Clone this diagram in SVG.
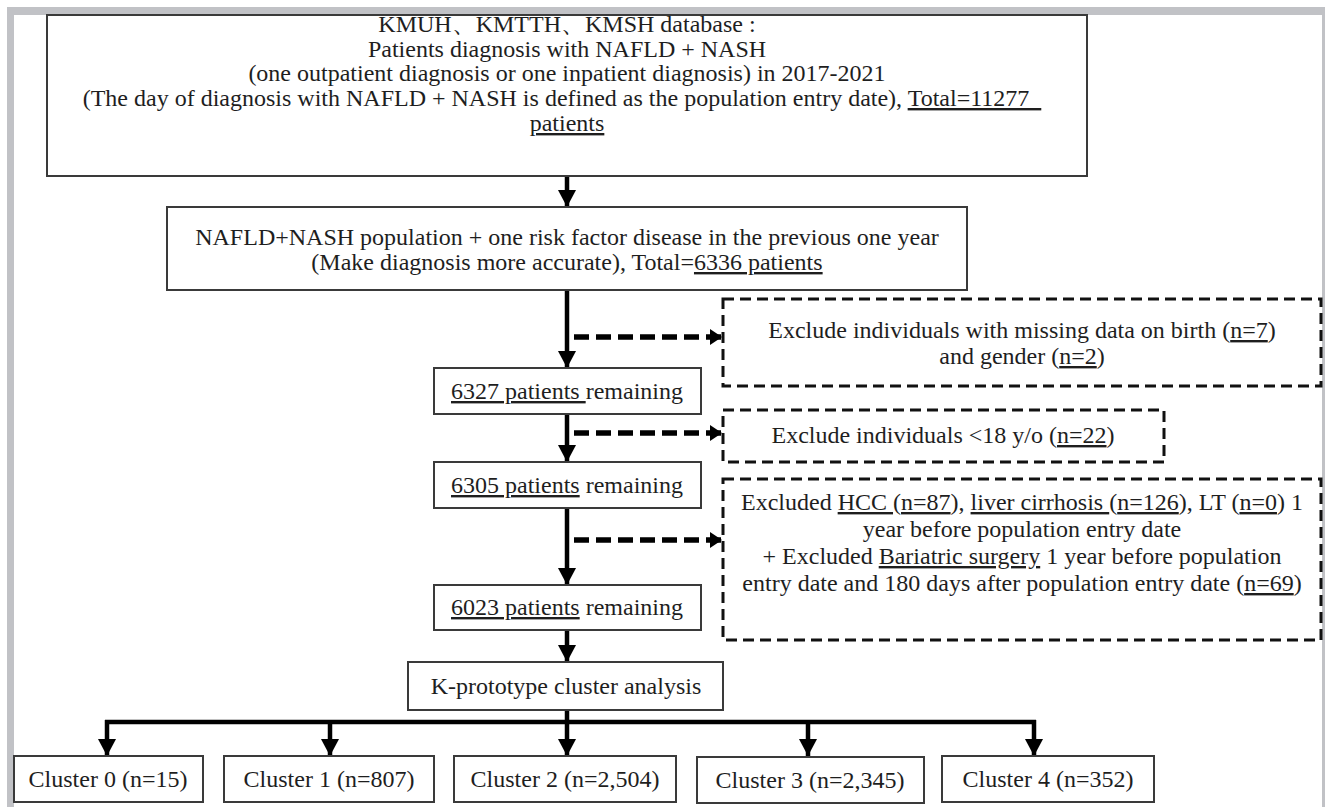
<svg xmlns="http://www.w3.org/2000/svg" width="1325" height="807" viewBox="0 0 1325 807">
<style>
.bx{fill:#fff;stroke:#3a3a3a;stroke-width:2}
.dbx{fill:#fff;stroke:#111;stroke-width:3;stroke-dasharray:11 6}
.t{font-family:"Liberation Serif","Times New Roman",serif;font-size:24px;fill:#1e1e1e;text-anchor:middle;white-space:pre}
.u{text-decoration:underline}
.sh{stroke:#000;stroke-width:4.5;fill:none}
.ds{stroke:#000;stroke-width:5.5;stroke-dasharray:15 7;fill:none}
</style>
<defs>
<marker id="ah" markerUnits="userSpaceOnUse" markerWidth="20" markerHeight="18" refX="17" refY="9" orient="auto">
<path d="M0,0 L17,9 L0,18 Z" fill="#000"/>
</marker>
<marker id="dh" markerUnits="userSpaceOnUse" markerWidth="14" markerHeight="16" refX="12" refY="8" orient="auto">
<path d="M0,0 L12,8 L0,16 Z" fill="#000"/>
</marker>
</defs>
<rect x="0" y="0" width="1325" height="807" fill="#fff"/>
<g id="frame" fill="#c1c2c6">
<rect x="7" y="7" width="1318" height="8"/>
<rect x="7" y="7" width="7" height="800"/>
<rect x="1322" y="7" width="3" height="800"/>
</g>
<g id="connectors">
<line class="sh" x1="567" y1="176" x2="567" y2="207" marker-end="url(#ah)"/>
<line class="sh" x1="567" y1="290" x2="567" y2="368" marker-end="url(#ah)"/>
<line class="sh" x1="567" y1="414" x2="567" y2="462" marker-end="url(#ah)"/>
<line class="sh" x1="567" y1="508" x2="567" y2="585" marker-end="url(#ah)"/>
<line class="sh" x1="567" y1="630" x2="567" y2="662" marker-end="url(#ah)"/>
<line class="sh" x1="567" y1="710" x2="567" y2="724"/>
<line class="sh" x1="105" y1="722" x2="1036" y2="722" stroke-width="5"/>
<line class="sh" x1="107" y1="720" x2="107" y2="756" marker-end="url(#ah)"/>
<line class="sh" x1="330" y1="720" x2="330" y2="756" marker-end="url(#ah)"/>
<line class="sh" x1="567" y1="720" x2="567" y2="756" marker-end="url(#ah)"/>
<line class="sh" x1="808" y1="720" x2="808" y2="756" marker-end="url(#ah)"/>
<line class="sh" x1="1034" y1="720" x2="1034" y2="756" marker-end="url(#ah)"/>
<line class="ds" x1="574" y1="337" x2="722" y2="337" marker-end="url(#dh)"/>
<line class="ds" x1="574" y1="433" x2="722" y2="433" marker-end="url(#dh)"/>
<line class="ds" x1="574" y1="540" x2="722" y2="540" marker-end="url(#dh)"/>
</g>
<g id="n-database">
<rect class="bx" x="47" y="15" width="1040" height="161"/>
<text class="t" x="567" y="32">KMUH、KMTTH、KMSH database :</text>
<text class="t" x="567" y="57">Patients diagnosis with NAFLD + NASH</text>
<text class="t" x="567" y="81">(one outpatient diagnosis or one inpatient diagnosis) in 2017-2021</text>
<text class="t" x="562" y="106">(The day of diagnosis with NAFLD + NASH is defined as the population entry date), <tspan class="u">Total=11277  </tspan></text>
<text class="t" x="567" y="131"><tspan class="u">patients</tspan></text>
</g>
<g id="n-risk">
<rect class="bx" x="167" y="207" width="800" height="83"/>
<text class="t" x="567" y="245">NAFLD+NASH population + one risk factor disease in the previous one year</text>
<text class="t" x="567" y="270">(Make diagnosis more accurate), Total=<tspan class="u">6336 patients</tspan></text>
</g>
<g id="n-ex1">
<rect class="dbx" x="723" y="299" width="598" height="87"/>
<text class="t" x="1022" y="338">Exclude individuals with missing data on birth (<tspan class="u">n=7</tspan>)</text>
<text class="t" x="1022" y="364">and gender (<tspan class="u">n=2</tspan>)</text>
</g>
<g id="n-6327">
<rect class="bx" x="434" y="368" width="267" height="46"/>
<text class="t" x="567" y="399"><tspan class="u">6327 patients </tspan>remaining</text>
</g>
<g id="n-ex2">
<rect class="dbx" x="723" y="410" width="441" height="52"/>
<text class="t" x="943" y="443">Exclude individuals &lt;18 y/o (<tspan class="u">n=22</tspan>)</text>
</g>
<g id="n-6305">
<rect class="bx" x="434" y="462" width="267" height="46"/>
<text class="t" x="567" y="493"><tspan class="u">6305 patients</tspan> remaining</text>
</g>
<g id="n-ex3">
<rect class="dbx" x="723" y="479" width="598" height="161"/>
<text class="t" x="1022" y="510">Excluded <tspan class="u">HCC </tspan>(<tspan class="u">n=87</tspan>), <tspan class="u">liver cirrhosis </tspan>(<tspan class="u">n=126</tspan>), LT (<tspan class="u">n=0</tspan>) 1</text>
<text class="t" x="1022" y="537">year before population entry date</text>
<text class="t" x="1022" y="564">+ Excluded <tspan class="u">Bariatric surgery</tspan> 1 year before population</text>
<text class="t" x="1022" y="591">entry date and 180 days after population entry date (<tspan class="u">n=69</tspan>)</text>
</g>
<g id="n-6023">
<rect class="bx" x="434" y="585" width="267" height="45"/>
<text class="t" x="567" y="615"><tspan class="u">6023 patients</tspan> remaining</text>
</g>
<g id="n-kproto">
<rect class="bx" x="408" y="662" width="315" height="48"/>
<text class="t" x="566" y="694">K-prototype cluster analysis</text>
</g>
<g id="n-c0">
<rect class="bx" x="14" y="756" width="189" height="46"/>
<text class="t" x="108" y="787">Cluster 0 (n=15)</text>
</g>
<g id="n-c1">
<rect class="bx" x="224" y="756" width="210" height="46"/>
<text class="t" x="329" y="787">Cluster 1 (n=807)</text>
</g>
<g id="n-c2">
<rect class="bx" x="454" y="756" width="222" height="46"/>
<text class="t" x="565" y="787">Cluster 2 (n=2,504)</text>
</g>
<g id="n-c3">
<rect class="bx" x="697" y="757" width="227" height="46"/>
<text class="t" x="810" y="788">Cluster 3 (n=2,345)</text>
</g>
<g id="n-c4">
<rect class="bx" x="942" y="756" width="212" height="46"/>
<text class="t" x="1048" y="787">Cluster 4 (n=352)</text>
</g>
</svg>
